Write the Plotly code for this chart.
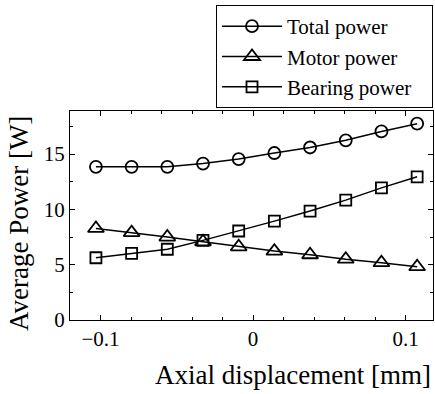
import plotly.graph_objects as go

x_disp = [-0.103, -0.0796, -0.0562, -0.0328, -0.0094, 0.014, 0.0374, 0.0608, 0.0842, 0.1076]
total_power = [13.85, 13.85, 13.85, 14.15, 14.55, 15.1, 15.6, 16.25, 17.05, 17.75]
motor_power = [8.28, 7.9, 7.5, 7.07, 6.62, 6.23, 5.9, 5.5, 5.18, 4.82]
bearing_power = [5.63, 6.02, 6.4, 7.2, 8.05, 8.94, 9.85, 10.84, 11.95, 12.95]

series = [
    ("Total power", total_power, "circle-open", 12),
    ("Motor power", motor_power, "triangle-up-open", 14),
    ("Bearing power", bearing_power, "square-open", 11),
]

FONT = "Liberation Serif, Times New Roman, serif"
PAD = "\u00a0" * 3

fig = go.Figure()
for name, vals, sym, sz in series:
    fig.add_trace(go.Scatter(
        x=x_disp, y=vals, name=name + PAD, mode="lines+markers",
        line=dict(color="black", width=1.5),
        marker=dict(symbol=sym, size=sz, color="black", line=dict(color="black", width=1.8)),
    ))

axis_common = dict(
    showline=True, linecolor="black", linewidth=1, mirror="ticks",
    ticks="inside", ticklen=5, tickwidth=1, tickcolor="black",
    showgrid=False, zeroline=False,
    tickfont=dict(family=FONT, size=21, color="black"),
)

fig.update_xaxes(range=[-0.12, 0.118], tickvals=[-0.1, 0, 0.1], ticktext=["\u22120.1", "0", "0.1"],
                 minor=dict(dtick=0.02, tick0=0, ticks="inside", ticklen=3, tickcolor="black", showgrid=False),
                 **axis_common)
fig.update_yaxes(range=[0, 18.9], tickvals=[0, 5, 10, 15],
                 minor=dict(dtick=2.5, tick0=0, ticks="inside", ticklen=3, tickcolor="black", showgrid=False),
                 **axis_common)

fig.update_layout(
    width=435, height=394,
    margin=dict(l=70, r=2, t=111, b=74),
    paper_bgcolor="white", plot_bgcolor="white",
    font=dict(family=FONT, color="black"),
    showlegend=True,
    legend=dict(
        x=1, xanchor="right", y=1.507, yanchor="top",
        bordercolor="black", borderwidth=1, bgcolor="white",
        font=dict(family=FONT, size=21, color="black"),
        itemwidth=60, tracegroupgap=0,
    ),
    annotations=[
        dict(text="Axial displacement [mm]", xref="paper", yref="paper", x=1.0, xanchor="right",
             y=-0.262, yanchor="middle", showarrow=False, font=dict(family=FONT, size=27, color="black")),
        dict(text="Average Power [W]", xref="paper", yref="paper", x=-0.14, xanchor="center",
             y=0.46, yanchor="middle", textangle=-90, showarrow=False,
             font=dict(family=FONT, size=27, color="black")),
    ],
)

fig.write_html("out.html", config={"displayModeBar": False},
               post_script="document.body.style.margin='0';document.body.style.padding='0';")
